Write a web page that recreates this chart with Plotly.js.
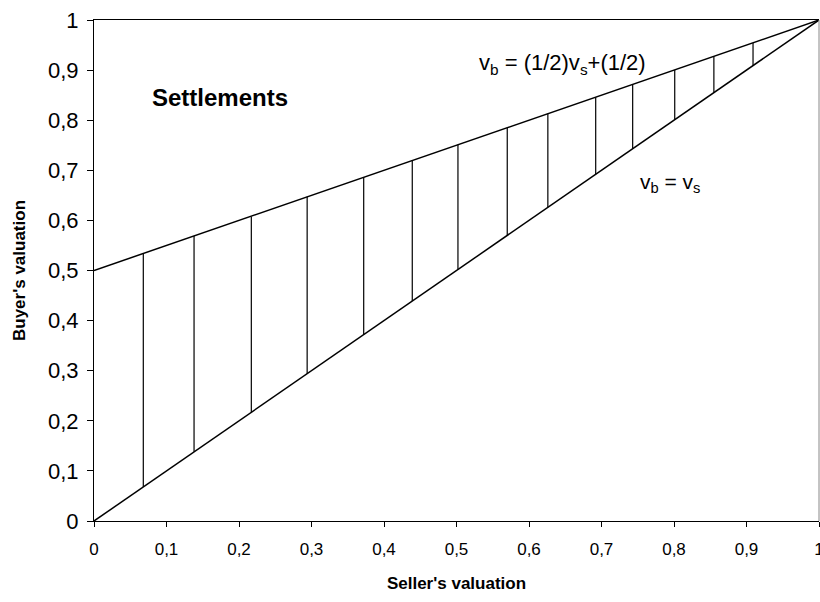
<!DOCTYPE html>
<html>
<head>
<meta charset="utf-8">
<script src="https://cdn.plot.ly/plotly-3.0.1.min.js"></script>
<style>html,body{margin:0;padding:0;background:#fff;}#chart{width:820px;height:602px;}</style>
</head>
<body>
<div id="chart"></div>
<script>
// Line v_b = v_s
var diagX = [0, 1];
var diagY = [0, 1];
// Line v_b = (1/2)v_s + (1/2)
var upperX = [0, 1];
var upperY = [0.5, 1];
// Settlement segments (vertical)
var settleX    = [0.068, 0.138, 0.217, 0.294, 0.372, 0.439, 0.502, 0.570, 0.626, 0.692, 0.743, 0.801, 0.855, 0.909];
var settleLow  = [0.068, 0.138, 0.217, 0.294, 0.372, 0.439, 0.502, 0.570, 0.626, 0.692, 0.743, 0.801, 0.855, 0.909];
var settleHigh = [0.534, 0.569, 0.608, 0.647, 0.686, 0.719, 0.751, 0.785, 0.813, 0.846, 0.871, 0.900, 0.927, 0.954];

var xTickVals = [0, 0.1, 0.2, 0.3, 0.4, 0.5, 0.6, 0.7, 0.8, 0.9, 1];
var yTickVals = [0, 0.1, 0.2, 0.3, 0.4, 0.5, 0.6, 0.7, 0.8, 0.9, 1];

var segX = [], segY = [];
for (var i = 0; i < settleX.length; i++) {
  segX.push(settleX[i], settleX[i], null);
  segY.push(settleLow[i], settleHigh[i], null);
}

var FONT = "Liberation Sans, Arial, sans-serif";

var traces = [
  {x: diagX, y: diagY, mode: 'lines', line: {color: '#000', width: 1.5}, hoverinfo: 'skip', cliponaxis: false},
  {x: upperX, y: upperY, mode: 'lines', line: {color: '#000', width: 1.5}, hoverinfo: 'skip', cliponaxis: false},
  {x: segX, y: segY, mode: 'lines', line: {color: '#000', width: 1.2}, hoverinfo: 'skip', connectgaps: false}
];

var layout = {
  width: 820, height: 602,
  margin: {l: 94, r: 1, t: 20, b: 81},
  paper_bgcolor: '#fff', plot_bgcolor: '#fff',
  showlegend: false,
  separators: ',.',
  font: {family: FONT, color: '#000'},
  xaxis: {
    range: [0, 1], tickvals: xTickVals, ticks: 'outside', ticklen: 5, tickwidth: 1, tickcolor: '#000',
    showline: true, linecolor: '#000', linewidth: 1, mirror: true,
    showgrid: false, zeroline: false, ticklabelstandoff: 8, ticklabeloverflow: 'allow',
    tickfont: {size: 17, family: FONT, color: '#000'},
    title: {text: "<b>Seller's valuation</b>", font: {size: 17, family: FONT, color: '#000'}, standoff: 18}
  },
  yaxis: {
    range: [0, 1], tickvals: yTickVals, ticks: 'outside', ticklen: 6, tickwidth: 1, tickcolor: '#000',
    showline: true, linecolor: '#000', linewidth: 1,
    showgrid: false, zeroline: false, ticklabelstandoff: 4,
    tickfont: {size: 22, family: FONT, color: '#000'},
    title: {text: "<b>Buyer's valuation</b>", font: {size: 17, family: FONT, color: '#000'}, standoff: 18}
  },
  shapes: [
    {type: 'line', xref: 'paper', yref: 'paper', x0: 1, x1: 1, y0: 0, y1: 1, line: {color: '#888', width: 1}}
  ],
  annotations: [
    {x: 0.077, y: 0.845, xref: 'x', yref: 'y', xanchor: 'left', yanchor: 'middle', showarrow: false,
     text: '<b>Settlements</b>', font: {size: 24, family: FONT, color: '#000'}},
    {x: 0.528, y: 0.913, xref: 'x', yref: 'y', xanchor: 'left', yanchor: 'middle', showarrow: false,
     text: 'v<sub>b</sub> = (1/2)v<sub>s</sub>+(1/2)', font: {size: 22, family: FONT, color: '#000'}},
    {x: 0.75, y: 0.675, xref: 'x', yref: 'y', xanchor: 'left', yanchor: 'middle', showarrow: false,
     text: 'v<sub>b</sub> = v<sub>s</sub>', font: {size: 21, family: FONT, color: '#000'}}
  ]
};

Plotly.newPlot('chart', traces, layout, {staticPlot: true, displayModeBar: false});
</script>
</body>
</html>
